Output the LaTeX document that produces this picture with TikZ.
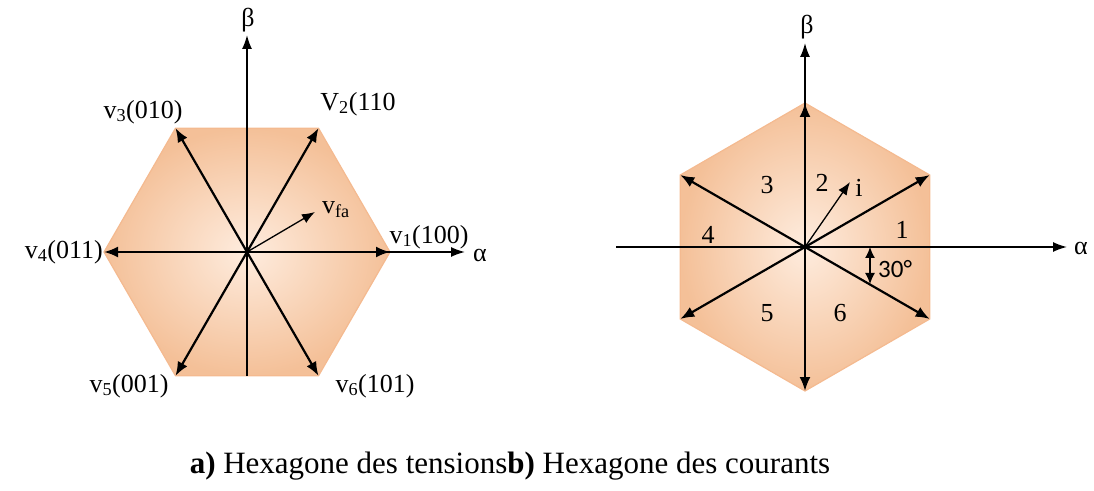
\documentclass[tikz,border=0pt]{standalone}
\usepackage{fontspec}
\setmainfont{Liberation Serif}
\newfontfamily\degfont{Carlito}
\usetikzlibrary{arrows.meta, positioning}
\definecolor{hexlight}{RGB}{254,236,222}
\definecolor{hexdark}{RGB}{244,192,152}
\definecolor{hexedge}{RGB}{244,186,144}

\begin{document}
\begin{tikzpicture}[x=1pt, y=1pt,
  vec/.style={-{Latex[length=14pt,width=11pt]}, line width=2.2pt},
  axis/.style={-{Latex[length=14pt,width=10pt]}, line width=1.6pt},
  small vec/.style={-{Latex[length=13pt,width=10pt]}, line width=1.3pt},
  lbl/.style={font=\fontsize{26}{30}\selectfont, inner sep=1pt},
  hexa/.style={draw=hexedge, line width=1.2pt, inner color=hexlight, outer color=hexdark}]
  \useasboundingbox (0,0) rectangle (1094,490);

  % a) hexagone des tensions
  \coordinate (O1) at (247,238);
  \foreach \k/\a in {1/0, 2/60, 3/120, 4/180, 5/240, 6/300}
    \coordinate (v\k) at ([shift={(\a:143)}]O1);
  \coordinate (bot1) at ([shift={(0,-124)}]O1);
  \coordinate (beta1) at (247,455);
  \coordinate (alpha1) at (465,238);
  \coordinate (fa) at (315,278);
  \shadedraw[hexa] (v1) -- (v2) -- (v3) -- (v4) -- (v5) -- (v6) -- cycle;
  \draw[axis] (bot1) -- (beta1);
  \draw[axis] (O1) -- (alpha1);
  \foreach \k in {1,...,6}
    \draw[vec] (O1) -- (v\k);
  \draw[small vec] (O1) -- (fa);

  \node (lbeta1) [lbl] at (248,470) {β};
  \node (lalpha1) [lbl] at (480,235) {α};
  \node (lv1) [lbl] at (429,253) {v\textsubscript{1}(100)};
  \node (lv2) [lbl] at (358,386) {V\textsubscript{2}(110};
  \node (lv3) [lbl] at (143,378) {v\textsubscript{3}(010)};
  \node (lv4) [lbl, left=0pt of v4] {v\textsubscript{4}(011)};
  \node (lv5) [lbl] at (129,104) {v\textsubscript{5}(001)};
  \node (lv6) [lbl] at (375,104) {v\textsubscript{6}(101)};
  \node (lfa) [lbl] at (336,280) {v\textsubscript{fa}};

  % b) hexagone des courants
  \coordinate (O2) at (805,243);
  \foreach \k/\a in {1/30, 2/90, 3/150, 4/210, 5/270, 6/330}
    \coordinate (c\k) at ([shift={(\a:144)}]O2);
  \coordinate (beta2) at (805,447);
  \coordinate (west2) at (616,243);
  \coordinate (alpha2) at (1067,243);
  \coordinate (iend) at (850,308);
  \coordinate (a30t) at (870,243);
  \coordinate (a30b) at (870,206);
  \shadedraw[hexa] (c1) -- (c2) -- (c3) -- (c4) -- (c5) -- (c6) -- cycle;
  \draw[axis] (O2) -- (beta2);
  \draw[axis] (west2) -- (alpha2);
  \foreach \k in {1,...,6}
    \draw[vec] (O2) -- (c\k);
  \draw[small vec] (O2) -- (iend);
  \draw[{Latex[length=11pt,width=10pt]}-{Latex[length=11pt,width=10pt]}, line width=1.3pt] (a30t) -- (a30b);

  \node (lbeta2) [lbl] at (807,463) {β};
  \node (lalpha2) [lbl] at (1081,242) {α};
  \node (li) [lbl] at (859,302) {i};
  \node (s1) [lbl] at (902,260) {1};
  \node (s2) [lbl] at (822,307) {2};
  \node (s3) [lbl] at (767,305) {3};
  \node (s4) [lbl] at (708,255) {4};
  \node (s5) [lbl] at (767,177) {5};
  \node (s6) [lbl] at (840,177) {6};
  \node (l30) [lbl, font=\degfont\fontsize{25}{28}\selectfont, right=7pt of a30t, yshift=-22pt] {30°};

  % legende
  \node (cap) [font=\fontsize{31}{36}\selectfont] at (510,24) {\textbf{a)} Hexagone des tensions\textbf{b)} Hexagone des courants};
\end{tikzpicture}
\end{document}
